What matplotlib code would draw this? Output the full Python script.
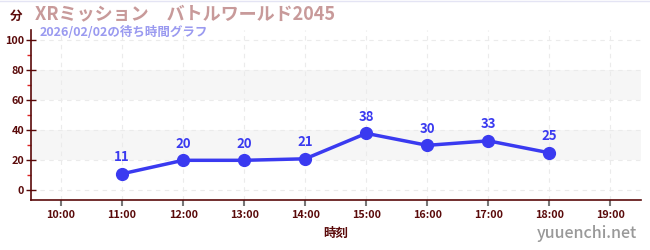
import matplotlib
matplotlib.use("Agg")
import matplotlib.pyplot as plt
from matplotlib.ticker import MultipleLocator

plt.rcParams['font.family'] = ['Noto Sans CJK JP', 'DejaVu Sans']

hours = [11, 12, 13, 14, 15, 16, 17, 18]
waits = [11, 20, 20, 21, 38, 30, 33, 25]
xticks = list(range(10, 20))
xticklabels = [f"{h}:00" for h in xticks]
yticks = [0, 20, 40, 60, 80, 100]
title = "XRミッション\u3000バトルワールド2045"
subtitle = "2026/02/02の待ち時間グラフ"

dark = "#5a0a0a"
blue = "#3a3af0"

fig = plt.figure(figsize=(6.5, 2.5), dpi=100)
ax = fig.add_axes([30.5/650, 1 - 200/250, (641-30.5)/650, 170/250])
ax.set_xlim(9.5, 19.5)
ax.set_ylim(-6.5, 107)

for lo, hi in [(20, 40), (60, 80)]:
    ax.axhspan(lo, hi, color="#f6f6f6", zorder=0, lw=0)

ax.set_xticks(xticks)
ax.set_xticklabels(xticklabels)
ax.set_yticks(yticks)
ax.set_yticks([10, 30, 50, 70, 90], minor=True)
ax.grid(True, which='major', color="#ebebeb", linestyle=(0, (4, 4)), linewidth=0.8)
ax.set_axisbelow(True)

for s in ['top', 'right']:
    ax.spines[s].set_visible(False)
for s in ['left', 'bottom']:
    ax.spines[s].set_color(dark)
    ax.spines[s].set_linewidth(1.2)

ax.tick_params(axis='x', colors="#777777", length=4, width=1.5, labelsize=7.8, labelcolor=dark, pad=3)
ax.tick_params(axis='y', which='major', direction='inout', length=7, width=1, color=dark, labelsize=7.8, labelcolor=dark, pad=1)
ax.tick_params(axis='y', which='minor', direction='out', length=3, width=1, color="#dd2222")
for lab in ax.get_xticklabels() + ax.get_yticklabels():
    lab.set_fontweight('bold')

ax.plot(hours, waits, color=blue, lw=2.5, marker='o', markersize=8.5, zorder=3)
for h, w in zip(hours, waits):
    ax.annotate(str(w), (h, w), xytext=(0, 7), textcoords='offset points',
                ha='center', va='bottom', color=blue, fontsize=9.5, fontweight='bold')

ax.set_xlabel("時刻", color=dark, fontsize=9, fontweight='bold', labelpad=5)

fig.text(35/650, 1 - 14/250, title, color="#c89a9a", fontsize=13, fontweight='bold', va='center', ha='left')
fig.text(40/650, 1 - 32/250, subtitle, color="#9a9af0", fontsize=9, fontweight='bold', va='center', ha='left')
fig.text(10/650, 1 - 16/250, "分", color=dark, fontsize=9, fontweight='bold', va='center', ha='left')
fig.text(637/650, 1 - 234/250, "yuuenchi.net", color="#999999", fontsize=11.5, fontweight='medium', va='center', ha='right')
fig.add_artist(plt.Line2D([0, 1], [1 - 0.5/250, 1 - 0.5/250], color="#e4e4f4", lw=1, transform=fig.transFigure))

fig.savefig("out.png", dpi=100)
